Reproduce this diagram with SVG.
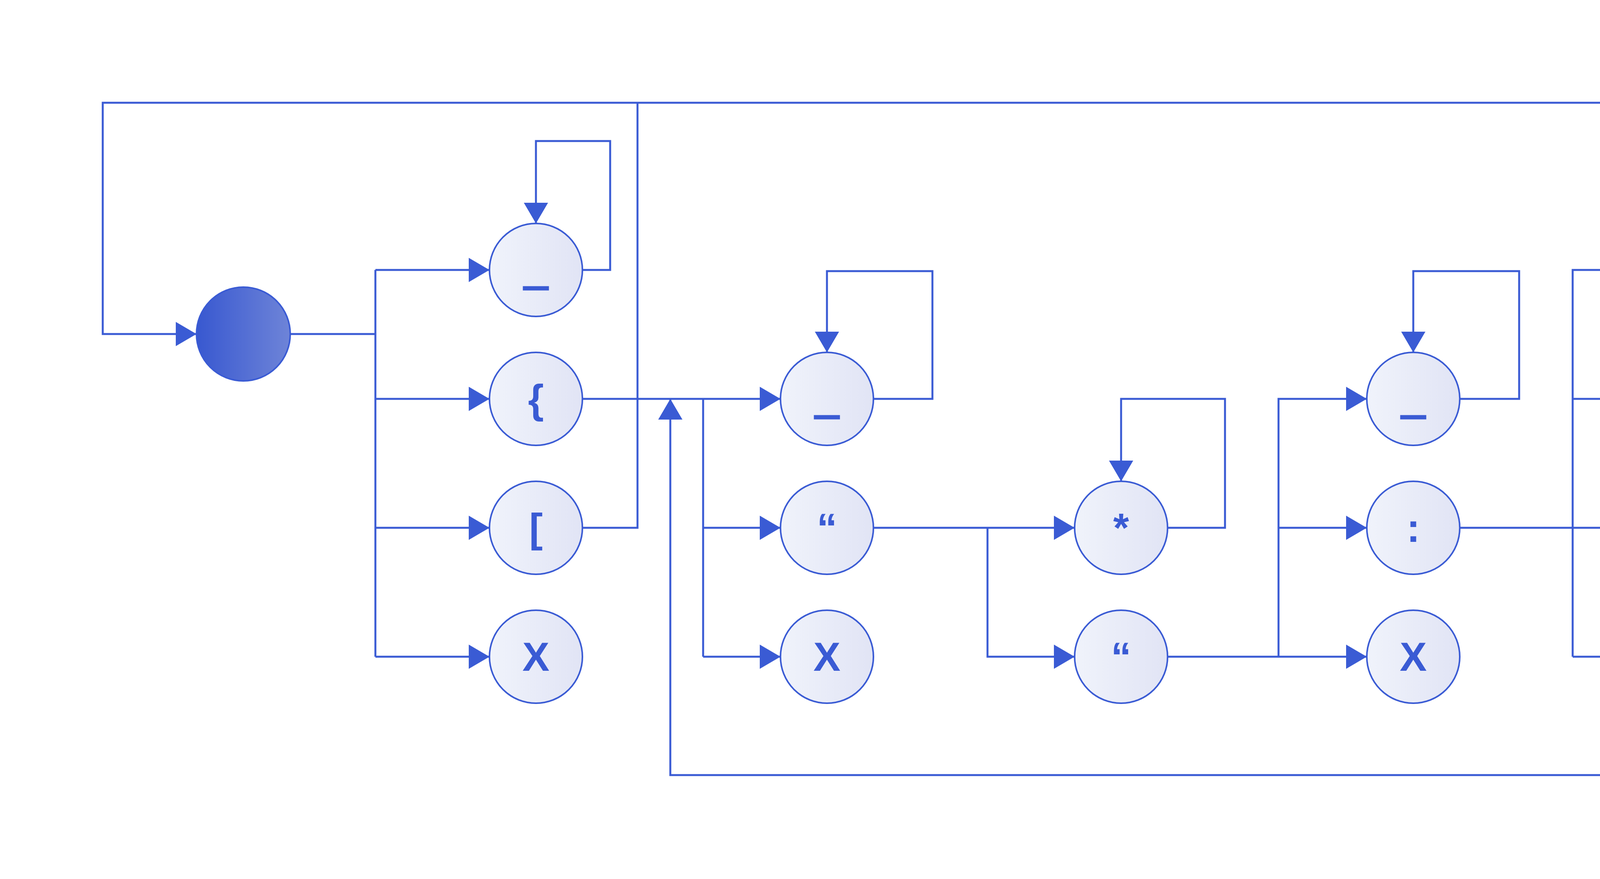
<svg xmlns="http://www.w3.org/2000/svg" width="6147" height="2250" viewBox="0 0 6147 2250">
<style>
.c{fill:none;stroke:#3a5bd4;stroke-width:5}
.n{fill:url(#g);stroke:#3a5bd4;stroke-width:4}
.t{fill:#3a5bd4;font-family:"Liberation Sans",Arial,sans-serif;font-weight:bold;font-size:104px;text-anchor:middle}
.u{stroke:#3a5bd4;stroke-width:7}
.a{marker-end:url(#ar)}
</style>
<defs>
<linearGradient id="g" x1="0" x2="1" y1="0" y2="0"><stop offset="0" stop-color="#f0f3fb"/><stop offset="1" stop-color="#e1e4f5"/></linearGradient>
<linearGradient id="gs" x1="0" x2="1" y1="0" y2="0"><stop offset="0" stop-color="#3858d0"/><stop offset="1" stop-color="#6e84d8"/></linearGradient>
<marker id="ar" markerUnits="userSpaceOnUse" markerWidth="60" markerHeight="70" refX="53" refY="31" orient="auto"><path d="M0,0 L53,31 L0,62 z" fill="#3a5bd4"/></marker>
</defs>
<g id="connectors">
<path class="c" d="M743,855 H961 M961,691 V1681"/>
<path class="c a" d="M961,691 H1253"/>
<path class="c a" d="M961,1021 H1253"/>
<path class="c a" d="M961,1351 H1253"/>
<path class="c a" d="M961,1681 H1253"/>
<path class="c a" d="M1491,691 H1562 V361 H1372 V572"/>
<path class="c" d="M1491,1351 H1632 V263"/>
<path class="c a" d="M4490,1351 H4861 V263 H263 V855 H503"/>
<path class="c a" d="M1491,1021 H1998"/>
<path class="c" d="M1800,1021 V1681"/>
<path class="c a" d="M1800,1351 H1998"/>
<path class="c a" d="M1800,1681 H1998"/>
<path class="c a" d="M4490,1681 H4861 V1984 H1716 V1021"/>
<path class="c a" d="M2236,1021 H2387 V694 H2117 V902"/>
<path class="c a" d="M2236,1351 H2751"/>
<path class="c a" d="M2528,1351 V1681 H2751"/>
<path class="c a" d="M2989,1351 H3136 V1021 H2870 V1232"/>
<path class="c a" d="M2989,1681 H3499"/>
<path class="c a" d="M3273,1681 V1021 H3499"/>
<path class="c a" d="M3273,1351 H3499"/>
<path class="c a" d="M3737,1021 H3889 V694 H3618 V902"/>
<path class="c a" d="M3737,1351 H4252"/>
<path class="c a" d="M4026,1681 V691 H4252"/>
<path class="c a" d="M4026,1681 H4252"/>
<path class="c a" d="M4026,1021 H5084"/>
<path class="c" d="M5084,1021 H5157"/>
<path class="c a" d="M4490,691 H4637 V365 H4371 V572"/>
<path class="c" d="M5225,877 H5157 V1169 H5225"/>
</g>
<g id="start"><circle cx="623" cy="855" r="120" fill="url(#gs)" stroke="#3a5bd4" stroke-width="4"/></g>
<g id="n1"><circle class="n" cx="1372" cy="691" r="119"/><text class="t u" x="1372" y="727">_</text></g>
<g id="n2"><circle class="n" cx="1372" cy="1021" r="119"/><text class="t" x="1372" y="1057">{</text></g>
<g id="n3"><circle class="n" cx="1372" cy="1351" r="119"/><text class="t" x="1372" y="1387">[</text></g>
<g id="n4"><circle class="n" cx="1372" cy="1681" r="119"/><text class="t" x="1372" y="1717">X</text></g>
<g id="n5"><circle class="n" cx="2117" cy="1021" r="119"/><text class="t u" x="2117" y="1057">_</text></g>
<g id="n6"><circle class="n" cx="2117" cy="1351" r="119"/><text class="t" x="2117" y="1387">“</text></g>
<g id="n7"><circle class="n" cx="2117" cy="1681" r="119"/><text class="t" x="2117" y="1717">X</text></g>
<g id="n8"><circle class="n" cx="2870" cy="1351" r="119"/><text class="t" x="2870" y="1387">*</text></g>
<g id="n9"><circle class="n" cx="2870" cy="1681" r="119"/><text class="t" x="2870" y="1717">“</text></g>
<g id="n10"><circle class="n" cx="3618" cy="1021" r="119"/><text class="t u" x="3618" y="1057">_</text></g>
<g id="n11"><circle class="n" cx="3618" cy="1351" r="119"/><text class="t" x="3618" y="1387">:</text></g>
<g id="n12"><circle class="n" cx="3618" cy="1681" r="119"/><text class="t" x="3618" y="1717">X</text></g>
<g id="n13"><circle class="n" cx="4371" cy="691" r="119"/><text class="t u" x="4371" y="727">_</text></g>
<g id="n14"><circle class="n" cx="4371" cy="1351" r="119"/><text class="t" x="4371" y="1387">[</text></g>
<g id="n15"><circle class="n" cx="4371" cy="1681" r="119"/><text class="t" x="4371" y="1717">{</text></g>
<g id="label">
<text x="5237" y="1000" fill="#3a5bd4" font-family="'Liberation Sans',Arial,sans-serif" font-weight="bold" font-size="78" textLength="642" lengthAdjust="spacingAndGlyphs">Boolean, number,</text>
<text x="5237" y="1097" fill="#3a5bd4" font-family="'Liberation Sans',Arial,sans-serif" font-weight="bold" font-size="78" textLength="382" lengthAdjust="spacingAndGlyphs">string, null</text>
</g>
</svg>
